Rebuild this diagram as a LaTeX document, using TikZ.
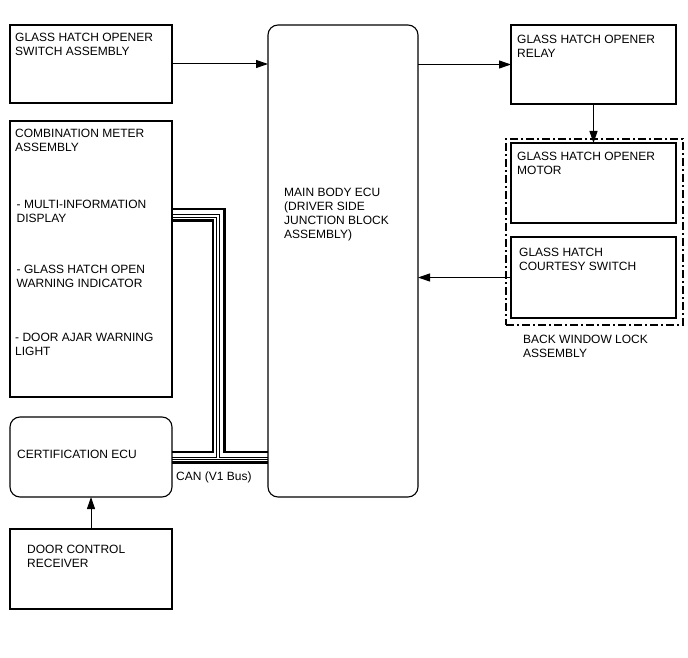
\documentclass[tikz,border=0pt]{standalone}
\usepackage{fontspec}
\setmainfont{Liberation Sans}
\usetikzlibrary{arrows.meta}

\tikzset{
  blk/.style={draw, line width=1.1pt, inner sep=0pt, outer sep=0pt},
  rblk/.style={blk, rounded corners=10pt},
  txt/.style={anchor=north west, inner sep=0pt, align=left, font=\fontsize{12}{14}\selectfont},
  sig/.style={line width=1pt, -{Triangle[length=12pt,width=8pt]}},
  canthick/.style={line width=2.6pt},
  canthin/.style={line width=1pt}
}

\begin{document}
\begin{tikzpicture}[x=1pt, y=-1pt]
  \useasboundingbox (0,0) rectangle (688,658);
  % left column
  \node[blk, minimum width=162, minimum height=78] (sw) at (91,64) {};
  \node[txt] (swtext) at ([shift={(5,8)}]sw.north west) {GLASS HATCH OPENER\\SWITCH ASSEMBLY};
  \node[blk, minimum width=162, minimum height=276] (meter) at (91,259) {};
  \node[txt] (metertext) at ([shift={(5,8)}]meter.north west) {COMBINATION METER\\ASSEMBLY};
  \node[txt] (mid) at ([shift={(6.5,79)}]meter.north west) {- MULTI-INFORMATION\\DISPLAY};
  \node[txt] (ind) at ([shift={(6.5,144)}]meter.north west) {- GLASS HATCH OPEN\\WARNING INDICATOR};
  \node[txt] (ajar) at ([shift={(5,212)}]meter.north west) {- DOOR AJAR WARNING\\LIGHT};
  \node[rblk, minimum width=162, minimum height=80] (cert) at (91,457) {};
  \node[txt] (certtext) at ([shift={(7,33)}]cert.north west) {CERTIFICATION ECU};
  \node[blk, minimum width=162, minimum height=80] (door) at (91,569) {};
  \node[txt] (doortext) at ([shift={(17,16)}]door.north west) {DOOR CONTROL\\RECEIVER};
  % main body ECU
  \node[rblk, minimum width=150, minimum height=472] (ecu) at (343,261) {};
  \node[txt] (ecutext) at ([shift={(16,163)}]ecu.north west) {MAIN BODY ECU\\(DRIVER SIDE\\JUNCTION BLOCK\\ASSEMBLY)};
  % right column
  \node[blk, minimum width=165, minimum height=79] (relay) at (593.5,64.5) {};
  \node[txt] (relaytext) at ([shift={(6,10)}]relay.north west) {GLASS HATCH OPENER\\RELAY};
  \node[blk, dash pattern=on 8pt off 3pt on 2pt off 3pt, minimum width=177, minimum height=186] (lockassy) at (594.5,232) {};
  \node[txt] (lockassytext) at ([shift={(17,10)}]lockassy.south west) {BACK WINDOW LOCK\\ASSEMBLY};
  \node[blk, minimum width=165, minimum height=80] (motor) at (593.5,183) {};
  \node[txt] (motortext) at ([shift={(6,9)}]motor.north west) {GLASS HATCH OPENER\\MOTOR};
  \node[blk, minimum width=165, minimum height=81] (courtesy) at (593.5,277.5) {};
  \node[txt] (courtesytext) at ([shift={(8,11)}]courtesy.north west) {GLASS HATCH\\COURTESY SWITCH};
  % signals
  \draw[sig] (sw.east) -- (sw.east -| ecu.west);
  \draw[sig] (ecu.east |- relay.west) -- (relay.west);
  \draw[sig] (relay.south) -- (motor.north);
  \draw[sig] (courtesy.west) -- (courtesy.west -| ecu.east);
  \draw[sig] (door.north) -- (cert.south);
  % CAN bus
  \coordinate (a1) at (224.5,209);   \coordinate (a2) at (224.5,452);
  \coordinate (b1) at (219.5,214);   \coordinate (b2) at (219.5,457);
  \coordinate (c1) at (216.5,217);   \coordinate (c2) at (216.5,457);
  \coordinate (d1) at (213,220.5);   \coordinate (d2) at (213,452);
  \coordinate (e) at (220,459.5);    \coordinate (f) at (220,462.5);
  \draw[canthick] (meter.east |- a1) -- (a1) -- (a2) -- (ecu.west |- a2);
  \draw[canthin] (meter.east |- b1) -- (b1) -- (b2) -- (ecu.west |- b2);
  \draw[canthin] (meter.east |- c1) -- (c1) -- (c2) -- (cert.east |- c2);
  \draw[canthick] (meter.east |- d1) -- (d1) -- (d2) -- (cert.east |- d2);
  \draw[canthin] (cert.east |- e) -- (ecu.west |- e);
  \draw[canthick] (cert.east |- f) -- (ecu.west |- f);
  \node[txt] (cantext) at ([shift={(4,9.5)}]cert.east |- f) {CAN (V1 Bus)};
\end{tikzpicture}
\end{document}
